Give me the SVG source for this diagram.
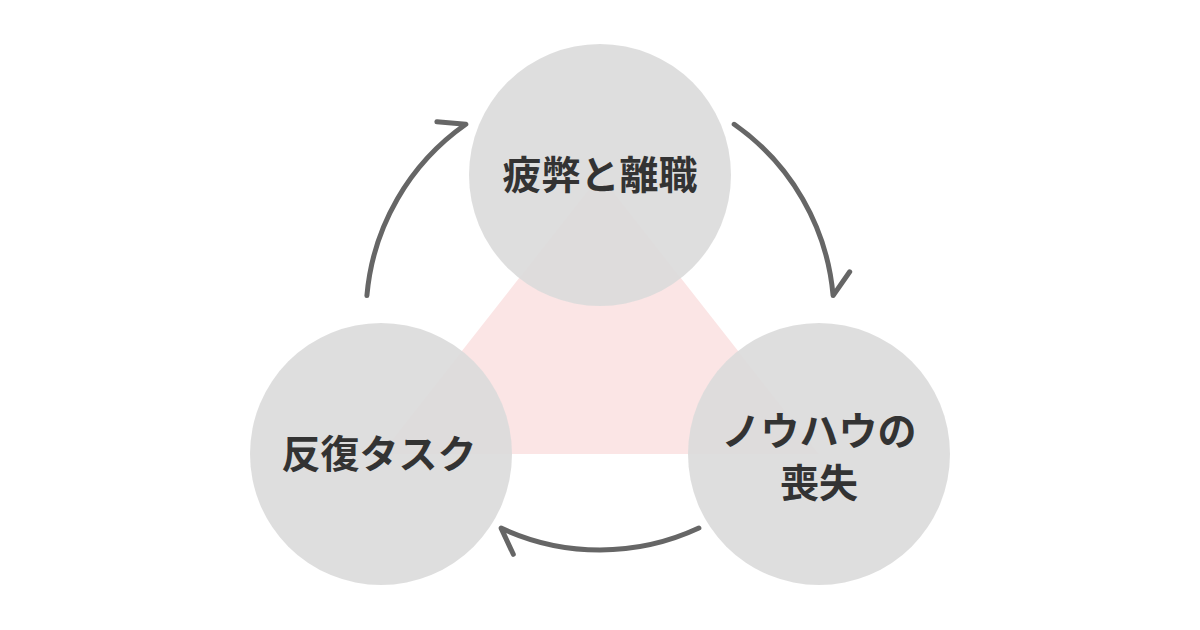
<svg xmlns="http://www.w3.org/2000/svg" width="1200" height="630" viewBox="0 0 1200 630">
<style>
.node{fill:#dcdcdc;fill-opacity:0.93}
.lbl{font-family:"Noto Sans CJK JP","Noto Sans CJK SC",sans-serif;font-weight:700;font-size:39px;fill:#333333;text-anchor:middle;dominant-baseline:central}
.arr{fill:none;stroke:#666666;stroke-width:5;stroke-linecap:round;stroke-linejoin:round}
</style>
<rect width="1200" height="630" fill="#ffffff"/>
<polygon points="600,175 381,454 819,454" fill="#fbe5e5"/>
<g id="connectors">
<path class="arr" d="M366.9,295.6 A234,234 0 0 1 465.8,124.3 L436.9,121.8"/>
<path class="arr" d="M734.2,124.3 A234,234 0 0 1 833.1,295.6 L849.7,271.8"/>
<path class="arr" d="M698.9,528.1 A234,234 0 0 1 501.1,528.1 L513.3,554.3"/>
</g>
<g id="node-top">
<circle class="node" cx="600" cy="175" r="131"/>
<text class="lbl" x="600" y="172">疲弊と離職</text>
</g>
<g id="node-left">
<circle class="node" cx="381" cy="454" r="131"/>
<text class="lbl" x="379" y="451">反復タスク</text>
</g>
<g id="node-right">
<circle class="node" cx="819" cy="454" r="131"/>
<text class="lbl" x="819" y="428">ノウハウの</text>
<text class="lbl" x="819" y="480">喪失</text>
</g>
</svg>
